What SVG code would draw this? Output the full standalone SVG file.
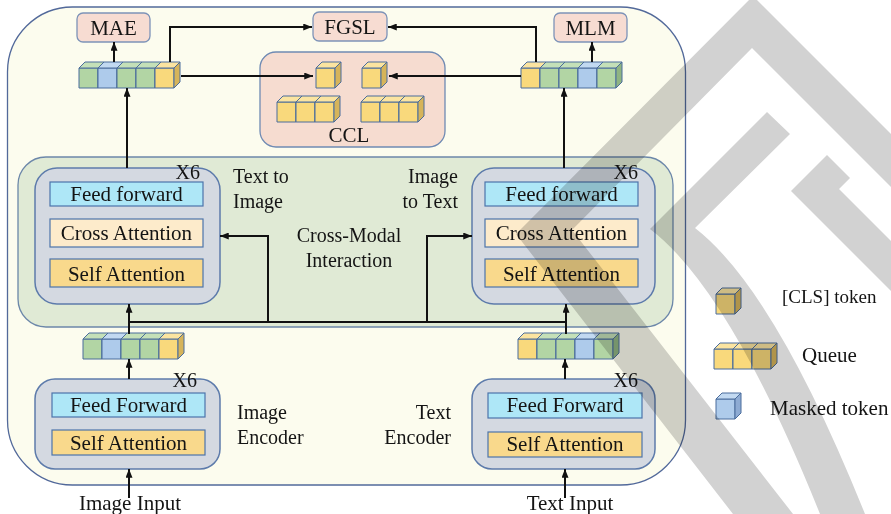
<svg xmlns="http://www.w3.org/2000/svg" width="891" height="514" viewBox="0 0 891 514">
  <style>
    text { font-family: "Liberation Serif", "Times New Roman", serif; fill: #141414; }
    .t21 { font-size: 21px; }
    .t20 { font-size: 20px; }
    .t19 { font-size: 19px; }
    .mid { text-anchor: middle; }
    .end { text-anchor: end; }
    .frame { fill: #fcfcee; stroke: #52699a; stroke-width: 1.3; }
    .zone { fill: #e0ead5; stroke: #6c87a9; stroke-width: 1.3; }
    .stack { fill: #d4d9e1; stroke: #5d7bab; stroke-width: 1.5; }
    .ff { fill: #aee7f7; stroke: #4c74ab; stroke-width: 1.2; }
    .ca { fill: #fdebcb; stroke: #4c74ab; stroke-width: 1.2; }
    .sa { fill: #f9d98c; stroke: #4c74ab; stroke-width: 1.2; }
    .loss { fill: #f7dcd2; stroke: #7d93b8; stroke-width: 1.3; }
    .cube { stroke: #4a6c9c; stroke-width: 1; stroke-linejoin: round; }
    .gf { fill: #b2d5a4; } .gt { fill: #c4e0b8; } .gs { fill: #8fb482; }
    .bf { fill: #aecbeb; } .bt { fill: #c2d9f1; } .bs { fill: #8eabd3; }
    .yf { fill: #f9d97c; } .yt { fill: #fbe4a0; } .ys { fill: #d6b45a; }
    .wire { fill: none; stroke: #111; stroke-width: 2; }
    .arrow { marker-end: url(#ah); }
    .mark { fill: #d2d2d2; mix-blend-mode: multiply; }
  </style>
  <defs>
    <marker id="ah" viewBox="0 0 10 8" refX="10" refY="4" markerWidth="9" markerHeight="7" orient="auto" markerUnits="userSpaceOnUse">
      <path d="M0,0 L10,4 L0,8 Z" fill="#111"/>
    </marker>
    <!-- token cubes: front face 19x20, depth 6 -->
    <g id="cg" class="cube">
      <rect class="gf" x="0" y="0" width="19" height="20"/>
      <polygon class="gt" points="0,0 6,-6 25,-6 19,0"/>
      <polygon class="gs" points="19,0 25,-6 25,14 19,20"/>
    </g>
    <g id="cb" class="cube">
      <rect class="bf" x="0" y="0" width="19" height="20"/>
      <polygon class="bt" points="0,0 6,-6 25,-6 19,0"/>
      <polygon class="bs" points="19,0 25,-6 25,14 19,20"/>
    </g>
    <g id="cy" class="cube">
      <rect class="yf" x="0" y="0" width="19" height="20"/>
      <polygon class="yt" points="0,0 6,-6 25,-6 19,0"/>
      <polygon class="ys" points="19,0 25,-6 25,14 19,20"/>
    </g>
  </defs>

  <rect x="0" y="0" width="891" height="514" fill="#ffffff"/>

  <!-- outer model frame -->
  <rect id="frame" class="frame" x="7.5" y="7" width="678" height="478" rx="65"/>

  <!-- cross-modal zone -->
  <g id="cross-modal">
    <rect class="zone" x="18" y="157" width="655" height="170" rx="28"/>
    <text class="t20 mid" x="349" y="242">Cross-Modal</text>
    <text class="t20 mid" x="349" y="267">Interaction</text>
  </g>

  <!-- loss heads -->
  <g id="mae">
    <rect class="loss" x="77" y="13" width="73" height="29" rx="6"/>
    <text class="t21 mid" x="113.5" y="35">MAE</text>
  </g>
  <g id="fgsl">
    <rect class="loss" x="313" y="12" width="74" height="29" rx="6"/>
    <text class="t21 mid" x="350" y="34">FGSL</text>
  </g>
  <g id="mlm">
    <rect class="loss" x="554" y="13" width="73" height="29" rx="6"/>
    <text class="t21 mid" x="590.5" y="35">MLM</text>
  </g>

  <!-- contrastive learning with queues -->
  <g id="ccl">
    <rect class="loss" x="260" y="52" width="185" height="95" rx="16" style="fill:#f6dcd0;stroke:#6f8ab3"/>
    <use href="#cy" x="316" y="68"/>
    <use href="#cy" x="362" y="68"/>
    <use href="#cy" x="277" y="102"/>
    <use href="#cy" x="296" y="102"/>
    <use href="#cy" x="315" y="102"/>
    <use href="#cy" x="361" y="102"/>
    <use href="#cy" x="380" y="102"/>
    <use href="#cy" x="399" y="102"/>
    <text class="t21 mid" x="349" y="142">CCL</text>
  </g>

  <!-- token sequences -->
  <g id="image-tokens-top">
    <use href="#cg" x="79" y="68"/>
    <use href="#cb" x="98" y="68"/>
    <use href="#cg" x="117" y="68"/>
    <use href="#cg" x="136" y="68"/>
    <use href="#cy" x="155" y="68"/>
  </g>
  <g id="text-tokens-top">
    <use href="#cy" x="521" y="68"/>
    <use href="#cg" x="540" y="68"/>
    <use href="#cg" x="559" y="68"/>
    <use href="#cb" x="578" y="68"/>
    <use href="#cg" x="597" y="68"/>
  </g>
  <g id="image-tokens">
    <use href="#cg" x="83" y="339"/>
    <use href="#cb" x="102" y="339"/>
    <use href="#cg" x="121" y="339"/>
    <use href="#cg" x="140" y="339"/>
    <use href="#cy" x="159" y="339"/>
  </g>
  <g id="text-tokens">
    <use href="#cy" x="518" y="339"/>
    <use href="#cg" x="537" y="339"/>
    <use href="#cg" x="556" y="339"/>
    <use href="#cb" x="575" y="339"/>
    <use href="#cg" x="594" y="339"/>
  </g>

  <!-- text-to-image fusion stack -->
  <g id="t2i">
    <rect class="stack" x="35" y="168" width="185" height="136" rx="22"/>
    <rect class="ff" x="50" y="182" width="153" height="24"/>
    <rect class="ca" x="50" y="219" width="153" height="28"/>
    <rect class="sa" x="50" y="259" width="153" height="28"/>
    <text class="t21 mid" x="126.5" y="201">Feed forward</text>
    <text class="t21 mid" x="126.5" y="240">Cross Attention</text>
    <text class="t21 mid" x="126.5" y="281">Self Attention</text>
    <text class="t20 end" x="200" y="179">X6</text>
    <text class="t20" x="233" y="183">Text to</text>
    <text class="t20" x="233" y="208">Image</text>
  </g>

  <!-- image-to-text fusion stack -->
  <g id="i2t">
    <rect class="stack" x="472" y="168" width="183" height="136" rx="22"/>
    <rect class="ff" x="485" y="182" width="153" height="24"/>
    <rect class="ca" x="485" y="219" width="153" height="28"/>
    <rect class="sa" x="485" y="259" width="153" height="28"/>
    <text class="t21 mid" x="561.5" y="201">Feed forward</text>
    <text class="t21 mid" x="561.5" y="240">Cross Attention</text>
    <text class="t21 mid" x="561.5" y="281">Self Attention</text>
    <text class="t20 end" x="638" y="179">X6</text>
    <text class="t20 end" x="458" y="183">Image</text>
    <text class="t20 end" x="458" y="208">to Text</text>
  </g>

  <!-- unimodal encoders -->
  <g id="image-encoder">
    <rect class="stack" x="35" y="379" width="185" height="90" rx="20"/>
    <rect class="ff" x="52" y="393" width="153" height="24"/>
    <rect class="sa" x="52" y="430" width="153" height="25"/>
    <text class="t21 mid" x="128.5" y="412">Feed Forward</text>
    <text class="t21 mid" x="128.5" y="450">Self Attention</text>
    <text class="t20 end" x="197" y="387">X6</text>
    <text class="t20" x="237" y="419">Image</text>
    <text class="t20" x="237" y="444">Encoder</text>
  </g>
  <g id="text-encoder">
    <rect class="stack" x="472" y="379" width="183" height="90" rx="20"/>
    <rect class="ff" x="488" y="393" width="154" height="25"/>
    <rect class="sa" x="488" y="432" width="154" height="25"/>
    <text class="t21 mid" x="565" y="412">Feed Forward</text>
    <text class="t21 mid" x="565" y="451">Self Attention</text>
    <text class="t20 end" x="638" y="387">X6</text>
    <text class="t20 end" x="451" y="419">Text</text>
    <text class="t20 end" x="451" y="444">Encoder</text>
  </g>

  <!-- inputs -->
  <g id="inputs">
    <text class="t21 mid" x="130" y="510">Image Input</text>
    <text class="t21 mid" x="570" y="510">Text Input</text>
  </g>

  <!-- connectors -->
  <g id="connectors">
    <path class="wire arrow" d="M114,62 V42"/>
    <path class="wire arrow" d="M592,62 V42"/>
    <path class="wire arrow" d="M170,62 V27 H312"/>
    <path class="wire arrow" d="M536,62 V27 H388"/>
    <path class="wire arrow" d="M181,76 H313"/>
    <path class="wire arrow" d="M521,76 H389"/>
    <path class="wire arrow" d="M127,168 V88"/>
    <path class="wire arrow" d="M564,168 V88"/>
    <path class="wire" d="M129,322 H566"/>
    <path class="wire arrow" d="M268,322 V236 H220"/>
    <path class="wire arrow" d="M427,322 V236 H472"/>
    <path class="wire arrow" d="M129,334 V304"/>
    <path class="wire arrow" d="M566,334 V304"/>
    <path class="wire arrow" d="M129,379 V359"/>
    <path class="wire arrow" d="M565,379 V359"/>
    <path class="wire arrow" d="M129,498 V469"/>
    <path class="wire arrow" d="M565,498 V469"/>
  </g>

  <!-- legend -->
  <g id="legend">
    <use href="#cy" x="716" y="294"/>
    <text class="t19" x="782" y="303">[CLS] token</text>
    <use href="#cy" x="714" y="349"/>
    <use href="#cy" x="733" y="349"/>
    <use href="#cy" x="752" y="349"/>
    <text class="t21" x="802" y="362">Queue</text>
    <use href="#cb" x="716" y="399"/>
    <text class="t21" x="770" y="415">Masked token</text>
  </g>

  <!-- grey overlay mark -->
  <g id="overlay-mark">
    <path class="mark" d="M891,134 L753,-4 L516,234 L733,514 L793,514 L572,230 L752,48 L891,187 Z"/>
    <path class="mark" d="M767,112 L650,229 Q730,290 820,514 L865,514 Q775,290 695,228 L790,134 Z"/>
    <path class="mark" d="M827,155 L791,191 L891,291 L891,241 L839,189 L850,178 Z"/>
  </g>
</svg>
